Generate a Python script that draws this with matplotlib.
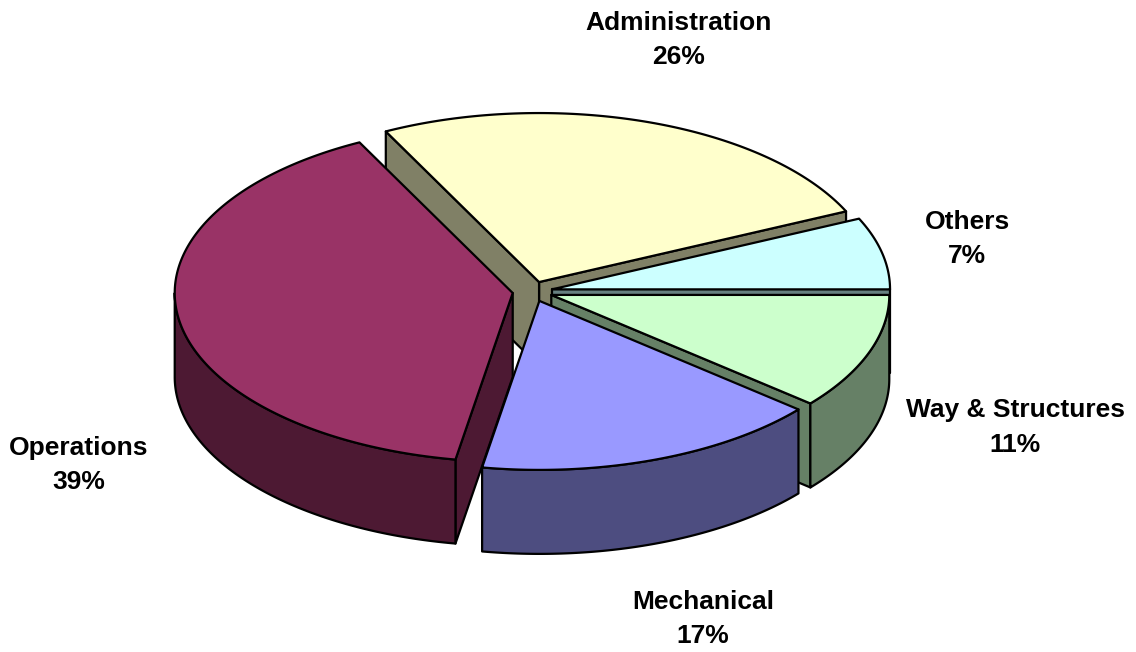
import numpy as np
import matplotlib
matplotlib.use('Agg')
import matplotlib.pyplot as plt
from matplotlib.patches import Polygon

# shares, in drawing direction (counter-clockwise from 3 o'clock)
labels = ['Others', 'Administration', 'Operations', 'Mechanical', 'Way & Structures']
percents = ['7%', '26%', '39%', '17%', '11%']
shares = [6.87, 25.62, 39.8, 16.61, 11.1]
top_colors = ['#CCFFFF', '#FFFFCC', '#993366', '#9999FF', '#CCFFCC']
side_colors = ['#668080', '#808066', '#4D1933', '#4D4D80', '#668066']
label_pos = [(967, 239), (679, 40), (79, 465), (703, 619), (1015, 427.5)]
draw_order = [1, 0, 4, 2, 3]

# pie geometry in pixels
cx, cy = 532.5, 291.5
rx, ry = 338, 169
depth = 84
explode = 20


def to_px(ang, ox, oy):
    return ox + rx * np.cos(ang), oy - ry * np.sin(ang)


fig = plt.figure(figsize=(11.36, 6.52), dpi=100)
ax = fig.add_axes([0, 0, 1, 1])
ax.set_xlim(0, 1136)
ax.set_ylim(652, 0)
ax.axis('off')

edges = np.radians(np.concatenate([[0], np.cumsum(shares) * 3.6]))
style = dict(edgecolor='black', linewidth=1.6, joinstyle='round')

for z, i in enumerate(draw_order):
    a0, a1 = edges[i], edges[i + 1]
    mid = (a0 + a1) / 2
    ox = cx + explode * np.cos(mid)
    oy = cy - explode * np.sin(mid) * ry / rx
    zo = 2 + z * 3

    # cut faces that look towards the viewer
    for ang, visible in [(a0, np.cos(a0) > 0), (a1, np.cos(a1) < 0)]:
        if visible:
            x, y = to_px(ang, ox, oy)
            ax.add_patch(Polygon([(ox, oy), (x, y), (x, y + depth), (ox, oy + depth)],
                                 facecolor=side_colors[i], zorder=zo, **style))

    # outer wall, only the lower half of the ellipse shows
    lo, hi = max(a0, np.pi), a1
    if hi > lo:
        t = np.linspace(lo, hi, 120)
        x, y = to_px(t, ox, oy)
        pts = np.vstack([np.column_stack([x, y]),
                         np.column_stack([x[::-1], y[::-1] + depth])])
        ax.add_patch(Polygon(pts, facecolor=side_colors[i], zorder=zo + 1, **style))

    # top
    t = np.linspace(a0, a1, 200)
    x, y = to_px(t, ox, oy)
    pts = np.vstack([[ox, oy], np.column_stack([x, y])])
    ax.add_patch(Polygon(pts, facecolor=top_colors[i], zorder=zo + 2, **style))

for name, pct, (lx, ly) in zip(labels, percents, label_pos):
    ax.text(lx, ly, f'{name}\n{pct}', ha='center', va='center', fontsize=19,
            fontweight='bold', family='Liberation Sans', linespacing=1.55, zorder=50)

fig.savefig('out.png', dpi=100)
